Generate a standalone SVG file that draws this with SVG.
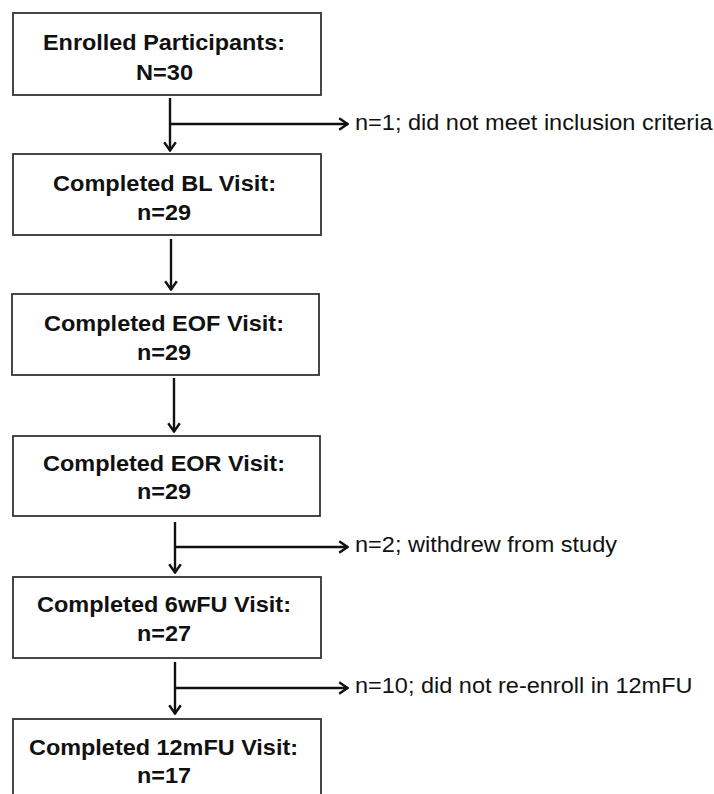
<svg xmlns="http://www.w3.org/2000/svg" width="714" height="794" viewBox="0 0 714 794">
<defs>
<style>
.box{fill:#fff;stroke:#333;stroke-width:1.8}
.bt{font-family:"Liberation Sans",Arial,sans-serif;font-weight:bold;font-size:22.5px;fill:#111}
.lt{font-family:"Liberation Sans",Arial,sans-serif;font-size:22px;fill:#111}
.ln{stroke:#111;stroke-width:2.4;fill:none}
</style>
<marker id="ah" viewBox="0 0 11 14" refX="10" refY="7" markerWidth="11" markerHeight="14" markerUnits="userSpaceOnUse" orient="auto">
<path d="M1.2,1.2 L9.5,7 L1.2,12.8" fill="none" stroke="#111" stroke-width="2.4"/>
</marker>
</defs>
<rect width="714" height="794" fill="#fff"/>
<g id="connectors">
<line class="ln" x1="170" y1="98" x2="170" y2="151" marker-end="url(#ah)"/>
<line class="ln" x1="170" y1="124" x2="348" y2="124" marker-end="url(#ah)"/>
<line class="ln" x1="171" y1="239" x2="171" y2="290" marker-end="url(#ah)"/>
<line class="ln" x1="174" y1="378" x2="174" y2="432" marker-end="url(#ah)"/>
<line class="ln" x1="175" y1="522" x2="175" y2="573" marker-end="url(#ah)"/>
<line class="ln" x1="175" y1="547" x2="348" y2="547" marker-end="url(#ah)"/>
<line class="ln" x1="175" y1="662" x2="175" y2="714" marker-end="url(#ah)"/>
<line class="ln" x1="175" y1="688" x2="348" y2="688" marker-end="url(#ah)"/>
</g>
<g id="n1">
<rect class="box" x="13" y="13" width="308" height="82"/>
<text class="bt" x="43" y="50" textLength="242" lengthAdjust="spacingAndGlyphs">Enrolled Participants:</text>
<text class="bt" x="136" y="80" textLength="57" lengthAdjust="spacingAndGlyphs">N=30</text>
</g>
<g id="n2">
<rect class="box" x="13" y="154" width="308" height="81"/>
<text class="bt" x="53" y="191" textLength="223" lengthAdjust="spacingAndGlyphs">Completed BL Visit:</text>
<text class="bt" x="137" y="220" textLength="54" lengthAdjust="spacingAndGlyphs">n=29</text>
</g>
<g id="n3">
<rect class="box" x="12" y="294" width="307" height="81"/>
<text class="bt" x="44" y="331" textLength="240" lengthAdjust="spacingAndGlyphs">Completed EOF Visit:</text>
<text class="bt" x="137" y="360" textLength="54" lengthAdjust="spacingAndGlyphs">n=29</text>
</g>
<g id="n4">
<rect class="box" x="13" y="436" width="307" height="80"/>
<text class="bt" x="43" y="471" textLength="242" lengthAdjust="spacingAndGlyphs">Completed EOR Visit:</text>
<text class="bt" x="137" y="499" textLength="54" lengthAdjust="spacingAndGlyphs">n=29</text>
</g>
<g id="n5">
<rect class="box" x="13" y="577" width="308" height="81"/>
<text class="bt" x="37" y="612" textLength="254" lengthAdjust="spacingAndGlyphs">Completed 6wFU Visit:</text>
<text class="bt" x="137" y="641" textLength="54" lengthAdjust="spacingAndGlyphs">n=27</text>
</g>
<g id="n6">
<rect class="box" x="13" y="719" width="308" height="84"/>
<text class="bt" x="29" y="755" textLength="269" lengthAdjust="spacingAndGlyphs">Completed 12mFU Visit:</text>
<text class="bt" x="137" y="783" textLength="54" lengthAdjust="spacingAndGlyphs">n=17</text>
</g>
<g id="e1">
<text class="lt" x="355" y="130" textLength="357.5" lengthAdjust="spacingAndGlyphs">n=1; did not meet inclusion criteria</text>
</g>
<g id="e2">
<text class="lt" x="355" y="552" textLength="262" lengthAdjust="spacingAndGlyphs">n=2; withdrew from study</text>
</g>
<g id="e3">
<text class="lt" x="355" y="693" textLength="337.5" lengthAdjust="spacingAndGlyphs">n=10; did not re-enroll in 12mFU</text>
</g>
</svg>
